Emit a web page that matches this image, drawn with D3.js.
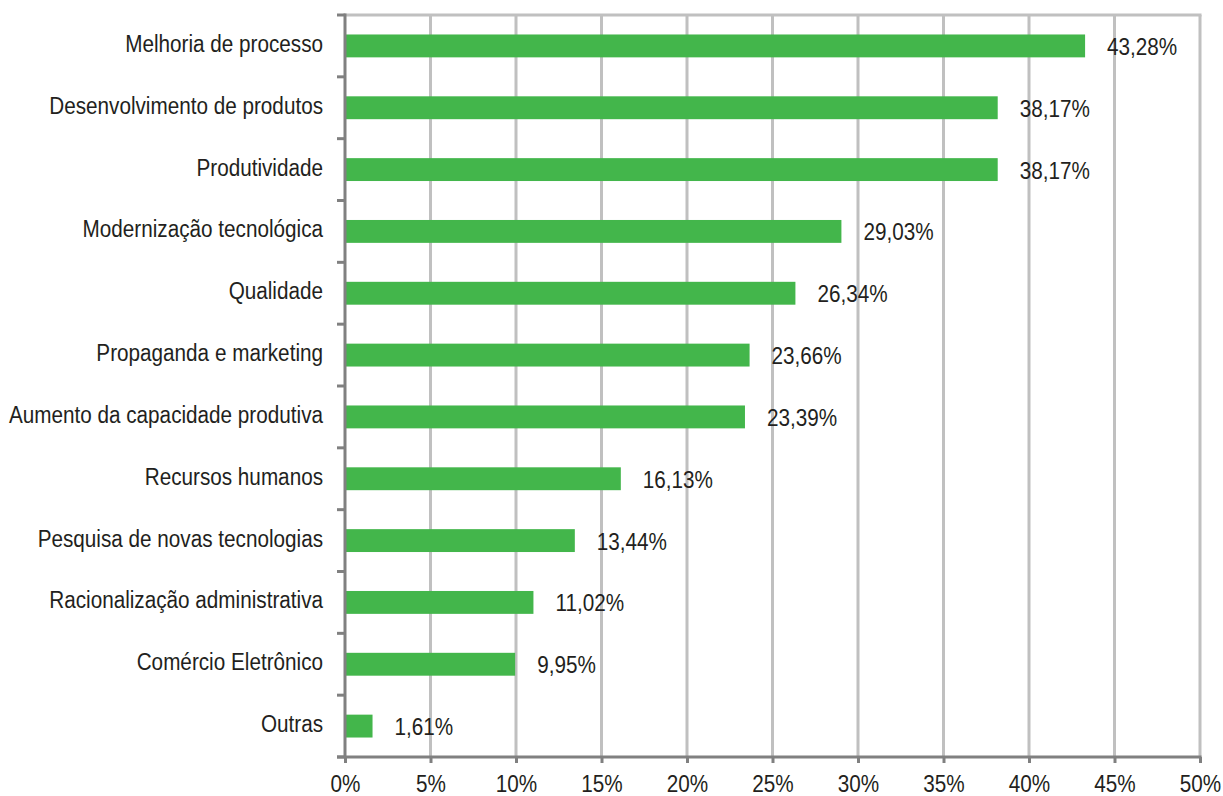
<!DOCTYPE html>
<html>
<head>
<meta charset="utf-8">
<script src="https://cdn.jsdelivr.net/npm/d3@7"></script>
<style>
  html, body { margin: 0; padding: 0; background: #ffffff; }
  svg { display: block; }
  text { font-family: "Liberation Sans", Arial, sans-serif; fill: #231f20; }
</style>
</head>
<body>
<svg id="chart" width="1223" height="796"></svg>
<script>
const categories = [
  "Melhoria de processo",
  "Desenvolvimento de produtos",
  "Produtividade",
  "Modernização tecnológica",
  "Qualidade",
  "Propaganda e marketing",
  "Aumento da capacidade produtiva",
  "Recursos humanos",
  "Pesquisa de novas tecnologias",
  "Racionalização administrativa",
  "Comércio Eletrônico",
  "Outras"
];
const values = [43.28, 38.17, 38.17, 29.03, 26.34, 23.66, 23.39, 16.13, 13.44, 11.02, 9.95, 1.61];
const valueLabels = ["43,28%", "38,17%", "38,17%", "29,03%", "26,34%", "23,66%", "23,39%", "16,13%", "13,44%", "11,02%", "9,95%", "1,61%"];
const xTicks = [0, 5, 10, 15, 20, 25, 30, 35, 40, 45, 50];
const xTickLabels = ["0%", "5%", "10%", "15%", "20%", "25%", "30%", "35%", "40%", "45%", "50%"];

(function () {
const svg = d3.select("#chart");
const mLeft = 345, mRight = 1200, mTop = 15, mBottom = 757;

const x = d3.scaleLinear().domain([0, 50]).range([mLeft, mRight]);
const y = d3.scaleBand().domain(categories).range([mTop, mBottom]).paddingInner(0.63).paddingOuter(0.315);

const gridColor = "#c0c0c0";
const axisColor = "#808080";
const fontSize = 24.5;
const squeeze = "scale(0.845,1)";

// vertical gridlines
svg.append("g").selectAll("line").data(xTicks.filter(d => d > 0)).join("line")
  .attr("x1", d => x(d)).attr("x2", d => x(d))
  .attr("y1", mTop).attr("y2", mBottom)
  .attr("stroke", gridColor).attr("stroke-width", 3);
// top border
svg.append("line").attr("x1", mLeft).attr("x2", mRight + 1.5).attr("y1", mTop).attr("y2", mTop)
  .attr("stroke", gridColor).attr("stroke-width", 3);

// bars
svg.append("g").selectAll("rect").data(categories).join("rect")
  .attr("x", x(0))
  .attr("y", d => y(d))
  .attr("width", (d, i) => x(values[i]) - x(0))
  .attr("height", y.bandwidth())
  .attr("fill", "#43b64b");

// value labels
svg.append("g").selectAll("g").data(categories).join("g")
  .attr("transform", (d, i) => `translate(${x(values[i]) + 22},${y(d) + y.bandwidth() / 2 + 9})`)
  .append("text")
  .attr("transform", squeeze)
  .attr("font-size", fontSize)
  .text((d, i) => valueLabels[i]);

// y axis line
svg.append("line").attr("x1", mLeft).attr("x2", mLeft).attr("y1", mTop - 1.5).attr("y2", mBottom)
  .attr("stroke", axisColor).attr("stroke-width", 3);
// y axis ticks at band boundaries
const boundaries = d3.range(categories.length + 1).map(i => mTop + i * y.step());
svg.append("g").selectAll("line").data(boundaries).join("line")
  .attr("x1", mLeft - 8).attr("x2", mLeft)
  .attr("y1", d => d).attr("y2", d => d)
  .attr("stroke", axisColor).attr("stroke-width", 3);

// category labels
svg.append("g").selectAll("g").data(categories).join("g")
  .attr("transform", d => `translate(${mLeft - 22},${y(d) + y.bandwidth() / 2 + 6})`)
  .append("text")
  .attr("transform", squeeze)
  .attr("text-anchor", "end")
  .attr("font-size", fontSize)
  .text(d => d);

// x axis
const xAxis = d3.axisBottom(x).tickValues(xTicks).tickFormat((d, i) => xTickLabels[i]).tickSize(6).tickSizeOuter(0);
const gx = svg.append("g").attr("transform", `translate(0,${mBottom})`).call(xAxis);
gx.select(".domain").attr("stroke", axisColor).attr("stroke-width", 3).attr("d", `M${mLeft - 8},0H${mRight + 1.5}`);
gx.selectAll(".tick line").attr("stroke", axisColor).attr("stroke-width", 3);
gx.attr("font-family", null).attr("font-size", null);
gx.selectAll(".tick text")
  .attr("font-size", fontSize)
  .attr("fill", "#231f20")
  .attr("dy", null)
  .attr("y", 35)
  .attr("transform", squeeze);
})();
</script>
</body>
</html>
